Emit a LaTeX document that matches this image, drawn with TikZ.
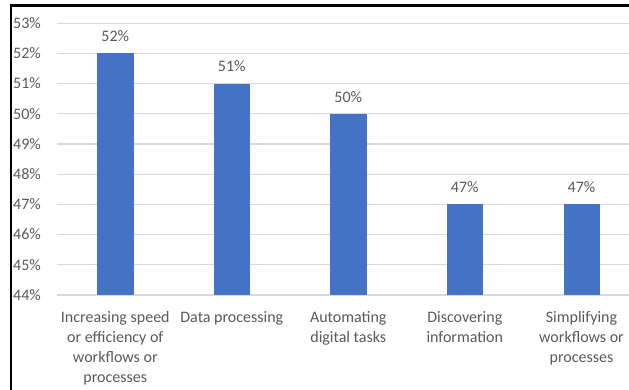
\documentclass[tikz,border=0pt]{standalone}
\usepackage{fontspec}
\setmainfont{Carlito}
\definecolor{barblue}{HTML}{4472C4}
\definecolor{gridgray}{HTML}{D9D9D9}
\definecolor{labelgray}{HTML}{595959}
\tikzset{
    ticklabel/.style={anchor=east, inner sep=0pt, text=labelgray, font=\fontsize{16}{20}\selectfont},
    valuelabel/.style={inner sep=0pt, text=labelgray, font=\fontsize{16}{20}\selectfont},
    catlabel/.style={anchor=north, align=center, inner sep=0pt, text=labelgray, font=\fontsize{16}{20}\selectfont},
    gridline/.style={draw=gridgray, line width=1.3pt}
}
\begin{document}
\begin{tikzpicture}[x=1pt, y=-1pt]
    \useasboundingbox (0,0) rectangle (629,390);
    \clip (0,0) rectangle (629,390);
    % gridlines
    \draw[gridline] (57,295.0) -- (640,295.0);
    \draw[gridline] (57,264.8) -- (640,264.8);
    \draw[gridline] (57,234.6) -- (640,234.6);
    \draw[gridline] (57,204.4) -- (640,204.4);
    \draw[gridline] (57,174.2) -- (640,174.2);
    \draw[gridline] (57,144.0) -- (640,144.0);
    \draw[gridline] (57,113.8) -- (640,113.8);
    \draw[gridline] (57,83.6) -- (640,83.6);
    \draw[gridline] (57,53.4) -- (640,53.4);
    \draw[gridline] (57,23.2) -- (640,23.2);
    % axis labels
    \node[ticklabel] (t44) at (41,295.0) {44\%};
    \node[ticklabel] (t45) at (41,264.8) {45\%};
    \node[ticklabel] (t46) at (41,234.6) {46\%};
    \node[ticklabel] (t47) at (41,204.4) {47\%};
    \node[ticklabel] (t48) at (41,174.2) {48\%};
    \node[ticklabel] (t49) at (41,144.0) {49\%};
    \node[ticklabel] (t50) at (41,113.8) {50\%};
    \node[ticklabel] (t51) at (41,83.6) {51\%};
    \node[ticklabel] (t52) at (41,53.4) {52\%};
    \node[ticklabel] (t53) at (41,23.2) {53\%};
    % bars
    \fill[barblue] (97,53.4) rectangle (133.5,295.0);
    \fill[barblue] (213.5,83.6) rectangle (250,295.0);
    \fill[barblue] (330,113.8) rectangle (366.5,295.0);
    \fill[barblue] (446.5,204.4) rectangle (483,295.0);
    \fill[barblue] (563.5,204.4) rectangle (600,295.0);
    % value labels
    \node[valuelabel] (v1) at (115.3,36) {52\%};
    \node[valuelabel] (v2) at (231.8,66) {51\%};
    \node[valuelabel] (v3) at (348.3,97) {50\%};
    \node[valuelabel] (v4) at (464.8,187) {47\%};
    \node[valuelabel] (v5) at (581.5,187) {47\%};
    % category labels
    \node[catlabel] (c1) at (115.3,311) {Increasing speed\\or efficiency of\\workflows or\\processes};
    \node[catlabel] (c2) at (231.8,311) {Data processing};
    \node[catlabel] (c3) at (348.3,311) {Automating\\digital tasks};
    \node[catlabel] (c4) at (464.8,311) {Discovering\\information};
    \node[catlabel] (c5) at (581.5,311) {Simplifying\\workflows or\\processes};
    % frame
    \draw[line width=2.5pt] (11,390) -- (11,5.5) -- (629,5.5);
\end{tikzpicture}
\end{document}
